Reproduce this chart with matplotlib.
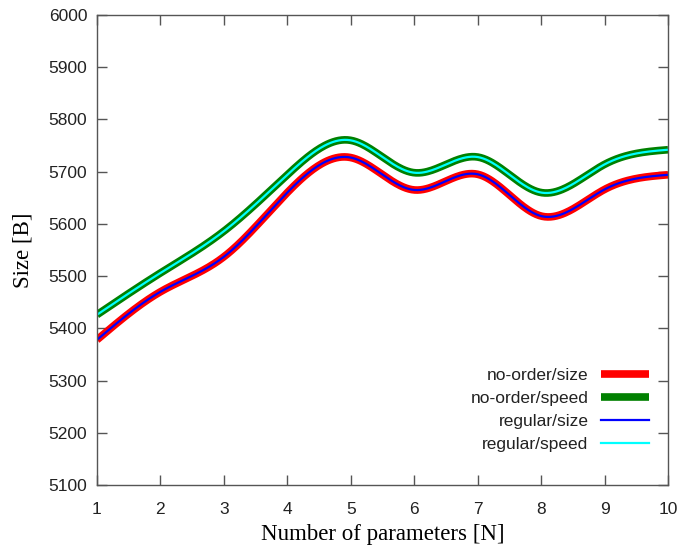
import numpy as np
import matplotlib
matplotlib.use("Agg")
import matplotlib.pyplot as plt

N = [1, 2, 3, 4, 5, 6, 7, 8, 9, 10]
noorder_size = [5378, 5470, 5537, 5660, 5727, 5665, 5695, 5615, 5666, 5694]
noorder_speed = [5426, 5506, 5586, 5694, 5760, 5698, 5728, 5660, 5714, 5742]
regular_size = noorder_size
regular_speed = noorder_speed
labels = ["no-order/size", "no-order/speed", "regular/size", "regular/speed"]


def natural_spline(x, y, xs):
    x = np.asarray(x, float)
    y = np.asarray(y, float)
    n = len(x)
    h = np.diff(x)
    A = np.zeros((n, n))
    b = np.zeros(n)
    A[0, 0] = 1
    A[-1, -1] = 1
    for i in range(1, n - 1):
        A[i, i - 1] = h[i - 1]
        A[i, i] = 2 * (h[i - 1] + h[i])
        A[i, i + 1] = h[i]
        b[i] = 3 * ((y[i + 1] - y[i]) / h[i] - (y[i] - y[i - 1]) / h[i - 1])
    c = np.linalg.solve(A, b)
    bb = np.zeros(n - 1)
    d = np.zeros(n - 1)
    for i in range(n - 1):
        bb[i] = (y[i + 1] - y[i]) / h[i] - h[i] * (2 * c[i] + c[i + 1]) / 3
        d[i] = (c[i + 1] - c[i]) / (3 * h[i])
    idx = np.clip(np.searchsorted(x, xs) - 1, 0, n - 2)
    dx = xs - x[idx]
    return y[idx] + bb[idx] * dx + c[idx] * dx ** 2 + d[idx] * dx ** 3


fig = plt.figure(figsize=(6.8, 5.48), dpi=100)
ax = fig.add_axes([0.1426, 0.115, 0.8398, 0.8576])

xs = np.linspace(min(N), max(N), 400)
ax.plot(xs, natural_spline(N, noorder_size, xs), color="#ff0000", lw=5.5,
        label=labels[0], solid_capstyle="butt")
ax.plot(xs, natural_spline(N, noorder_speed, xs), color="#008000", lw=5.5,
        label=labels[1], solid_capstyle="butt")
ax.plot(xs, natural_spline(N, regular_size, xs), color="#0000ff", lw=1.6,
        label=labels[2])
ax.plot(xs, natural_spline(N, regular_speed, xs), color="#00ffff", lw=1.6,
        label=labels[3])

ax.set_xlim(1, 10)
ax.set_ylim(5100, 6000)
ax.set_xticks(range(1, 11))
ax.set_yticks(range(5100, 6001, 100))

for s in ax.spines.values():
    s.set_color("#555555")
    s.set_linewidth(1.0)
ax.tick_params(direction="in", length=7, width=1.0, color="#555555",
               top=True, right=True, labelsize=12.5, pad=7)
ax.tick_params(axis="x", pad=12)
for t in ax.get_xticklabels() + ax.get_yticklabels():
    t.set_fontfamily("Liberation Sans")
    t.set_color("#222222")

ax.set_xlabel("Number of parameters [N]", fontfamily="Liberation Serif",
              fontsize=16.5, labelpad=5.5)
ax.set_ylabel("Size [B]", fontfamily="Liberation Serif", fontsize=16.5,
              labelpad=11)

leg = ax.legend(loc="lower right", bbox_to_anchor=(0.967, 0.070),
                frameon=False, markerfirst=False, handlelength=2.8,
                handletextpad=0.7, labelspacing=0.45, borderpad=0,
                borderaxespad=0, prop={"family": "Liberation Sans", "size": 12.5})
for t in leg.get_texts():
    t.set_color("#222222")

fig.savefig("out.png", dpi=100)
